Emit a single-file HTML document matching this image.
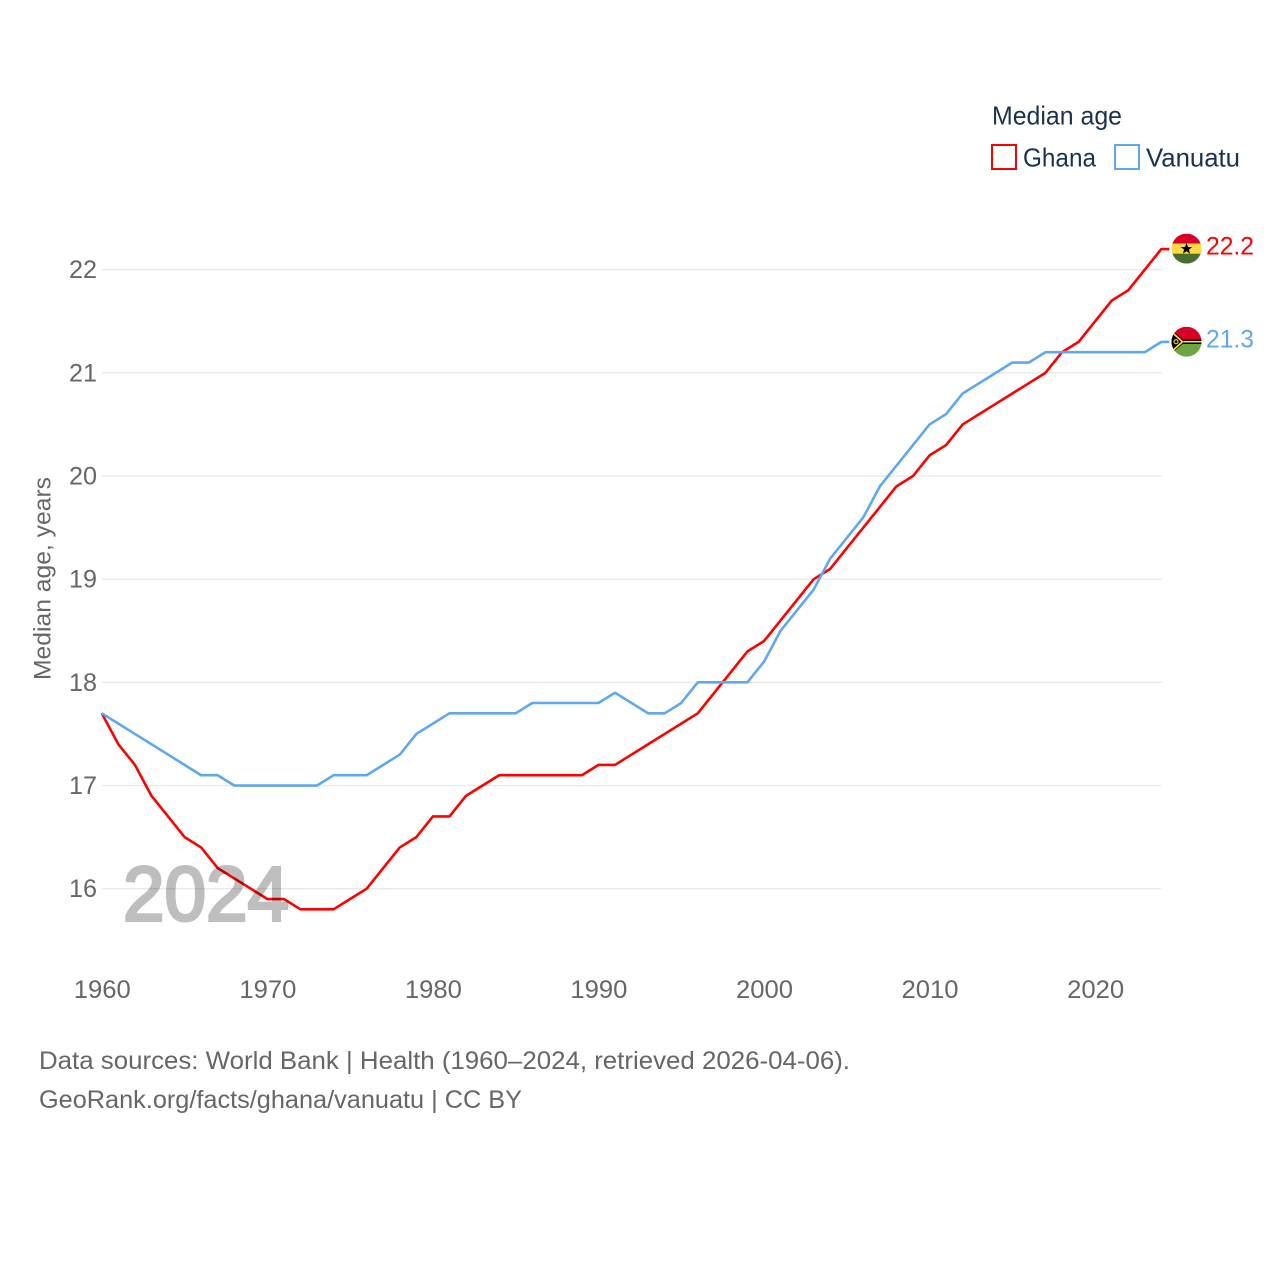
<!DOCTYPE html>
<html lang="en">
<head>
<meta charset="utf-8">
<title>Median age: Ghana and Vanuatu</title>
<style>
html,body{margin:0;padding:0;background:#fff;}
svg{display:block;font-family:"Liberation Sans",sans-serif;}
</style>
</head>
<body>
<svg id="chart" width="1280" height="1280" viewBox="0 0 1280 1280" xmlns="http://www.w3.org/2000/svg">
  <defs>
    <clipPath id="clip-ghana"><circle cx="0" cy="0" r="15"/></clipPath>
    <clipPath id="clip-vanuatu"><circle cx="0" cy="0" r="15"/></clipPath>
  </defs>
  <rect x="0" y="0" width="1280" height="1280" fill="#fff"/>
  <g id="grid"></g>
  <g id="y-ticks"></g>
  <g id="x-ticks"></g>
  <g id="series"></g>
  <text x="123" y="920.5" font-size="77" fill="#000" stroke="#000" stroke-width="3" opacity="0.25" textLength="166" lengthAdjust="spacingAndGlyphs">2024</text>
  <text transform="translate(50.5,680) rotate(-90)" font-size="24" fill="#666666" textLength="203" lengthAdjust="spacingAndGlyphs">Median age, years</text>

  <g id="flag-ghana">
    <g clip-path="url(#clip-ghana)">
      <rect x="-15" y="-15" width="30" height="10" fill="#d80027"/>
      <rect x="-15" y="-5" width="30" height="10" fill="#ffda44"/>
      <rect x="-15" y="5" width="30" height="10" fill="#496e2d"/>
      <polygon points="0,-5.5 1.6,-1.6 5.8,-1.6 2.4,1 3.6,5 0,2.6 -3.6,5 -2.4,1 -5.8,-1.6 -1.6,-1.6" fill="#000"/>
    </g>
  </g>
  <g id="flag-vanuatu">
    <g clip-path="url(#clip-vanuatu)">
      <rect x="-15" y="-15" width="30" height="15" fill="#d80027"/>
      <rect x="-15" y="0" width="30" height="15" fill="#6da544"/>
      <rect x="-15" y="-2.3" width="30" height="4.6" fill="#000"/>
      <rect x="-4" y="-0.8" width="19" height="1.6" fill="#ffda44"/>
      <polygon points="-16,-12.5 -3,-1.5 -3,1.5 -16,12.5" fill="#000"/>
      <polyline points="-14,-9 -4,0 -14,9" fill="none" stroke="#ffda44" stroke-width="1.7"/>
      <circle cx="-10.5" cy="0" r="2" fill="none" stroke="#ffda44" stroke-width="1.1"/>
    </g>
  </g>
  <g id="end-labels"></g>

  <g>
    <text x="992" y="124.5" font-size="26" fill="#1a3150" textLength="130" lengthAdjust="spacingAndGlyphs">Median age</text>
    <g>
      <rect x="992" y="145" width="24" height="24" fill="#fff" stroke="#ff0000" stroke-width="2"/>
      <text x="1023" y="166.5" font-size="26" fill="#1a3150" textLength="73" lengthAdjust="spacingAndGlyphs">Ghana</text>
    </g>
    <g>
      <rect x="1115" y="145" width="24" height="24" fill="#fff" stroke="#5fa8f0" stroke-width="2"/>
      <text x="1146" y="166.5" font-size="26" fill="#1a3150" textLength="94" lengthAdjust="spacingAndGlyphs">Vanuatu</text>
    </g>
  </g>

  <g>
    <text x="39" y="1069" font-size="25" fill="#666666" textLength="811" lengthAdjust="spacingAndGlyphs">Data sources: World Bank | Health (1960–2024, retrieved 2026-04-06).</text>
    <text x="39" y="1108" font-size="25" fill="#666666" textLength="483" lengthAdjust="spacingAndGlyphs">GeoRank.org/facts/ghana/vanuatu | CC BY</text>
  </g>
</svg>
<script>
const startYear = 1960;
const ghanaValues = [17.7,17.4,17.2,16.9,16.7,16.5,16.4,16.2,16.1,16.0,15.9,15.9,15.8,15.8,15.8,15.9,16.0,16.2,16.4,16.5,16.7,16.7,16.9,17.0,17.1,17.1,17.1,17.1,17.1,17.1,17.2,17.2,17.3,17.4,17.5,17.6,17.7,17.9,18.1,18.3,18.4,18.6,18.8,19.0,19.1,19.3,19.5,19.7,19.9,20.0,20.2,20.3,20.5,20.6,20.7,20.8,20.9,21.0,21.2,21.3,21.5,21.7,21.8,22.0,22.2];
const vanuatuValues = [17.7,17.6,17.5,17.4,17.3,17.2,17.1,17.1,17.0,17.0,17.0,17.0,17.0,17.0,17.1,17.1,17.1,17.2,17.3,17.5,17.6,17.7,17.7,17.7,17.7,17.7,17.8,17.8,17.8,17.8,17.8,17.9,17.8,17.7,17.7,17.8,18.0,18.0,18.0,18.0,18.2,18.5,18.7,18.9,19.2,19.4,19.6,19.9,20.1,20.3,20.5,20.6,20.8,20.9,21.0,21.1,21.1,21.2,21.2,21.2,21.2,21.2,21.2,21.2,21.3];
const yTickValues = [16,17,18,19,20,21,22];
const xTickValues = [1960,1970,1980,1990,2000,2010,2020];
const ghanaEndLabel = "22.2";
const vanuatuEndLabel = "21.3";

const SVGNS = "http://www.w3.org/2000/svg";
function xScale(year){ return 101.8 + (year - 1960) * 16.555; }
function yScale(v){ return 888.7 - (v - 16) * 103.17; }
function make(tag, attrs){
  const el = document.createElementNS(SVGNS, tag);
  for (const k in attrs) el.setAttribute(k, attrs[k]);
  return el;
}
const gridG = document.getElementById('grid');
const yG = document.getElementById('y-ticks');
const xG = document.getElementById('x-ticks');
const seriesG = document.getElementById('series');
const endG = document.getElementById('end-labels');

yTickValues.forEach(function(v){
  const line = make('line', {x1:102, x2:1161.5, y1:yScale(v), y2:yScale(v), stroke:'#e9e9e9', 'stroke-width':1.4});
  
  
  gridG.appendChild(line);
  const t = make('text', {x:97, y:yScale(v)+8.5, 'text-anchor':'end', 'font-size':25, fill:'#666666', textLength:28, lengthAdjust:'spacingAndGlyphs'});
  
  
  t.textContent = String(v);
  yG.appendChild(t);
});

xTickValues.forEach(function(y){
  const t = make('text', {x:xScale(y)+0.5, y:998, 'text-anchor':'middle', 'font-size':25, fill:'#666666', textLength:57, lengthAdjust:'spacingAndGlyphs'});
  
  
  t.textContent = String(y);
  xG.appendChild(t);
});

function seriesPoints(values){
  const pts = values.map(function(v, i){ return xScale(startYear + i).toFixed(2) + ',' + yScale(v).toFixed(2); });
  const last = values[values.length - 1];
  pts.push((xScale(startYear + values.length - 1) + 8).toFixed(2) + ',' + yScale(last).toFixed(2));
  return pts.join(' ');
}

const ghanaLine = make('polyline', {points:seriesPoints(ghanaValues), fill:'none', stroke:'#ff0000', 'stroke-width':2.6, 'stroke-linejoin':'round'});


seriesG.appendChild(ghanaLine);

const vanuatuLine = make('polyline', {points:seriesPoints(vanuatuValues), fill:'none', stroke:'#5fa8f0', 'stroke-width':2.6, 'stroke-linejoin':'round'});


seriesG.appendChild(vanuatuLine);

const ghanaEndY = yScale(ghanaValues[ghanaValues.length - 1]);
const vanuatuEndY = yScale(vanuatuValues[vanuatuValues.length - 1]);
document.getElementById('flag-ghana').setAttribute('transform', 'translate(1186.5,' + (ghanaEndY - 0.4) + ')');
document.getElementById('flag-vanuatu').setAttribute('transform', 'translate(1186.5,' + (vanuatuEndY - 0.2) + ')');

const ghanaText = make('text', {x:1206, y:ghanaEndY+5.5, 'font-size':25, fill:'#ff0000', textLength:48, lengthAdjust:'spacingAndGlyphs'});


ghanaText.textContent = ghanaEndLabel;
endG.appendChild(ghanaText);

const vanuatuText = make('text', {x:1206, y:vanuatuEndY+5.5, 'font-size':25, fill:'#5fa8f0', textLength:48, lengthAdjust:'spacingAndGlyphs'});


vanuatuText.textContent = vanuatuEndLabel;
endG.appendChild(vanuatuText);
</script>
</body>
</html>
